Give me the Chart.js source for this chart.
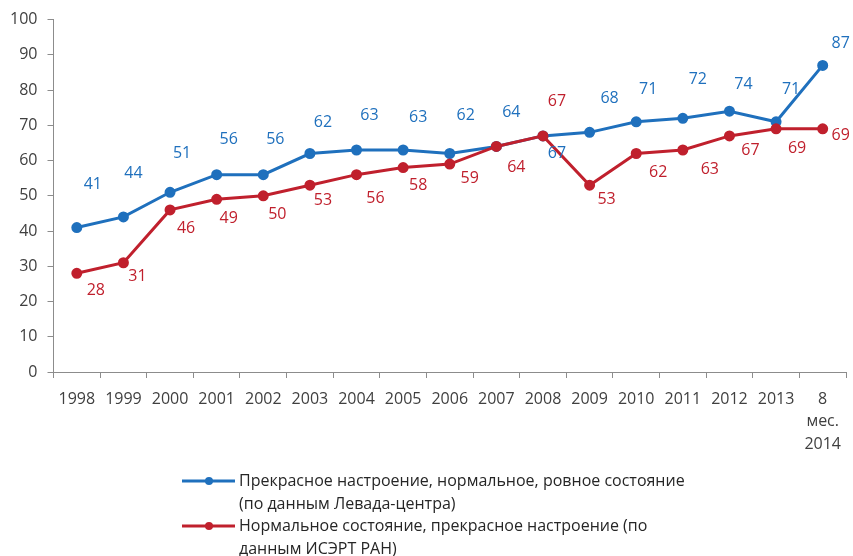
<!DOCTYPE html>
<html>
<head>
<meta charset="utf-8">
<script src="https://cdn.jsdelivr.net/npm/chart.js@4.4.1/dist/chart.umd.min.js"></script>
<style>
  html, body { margin: 0; padding: 0; background: #ffffff; }
  #wrap { width: 853px; height: 556px; position: relative; }
</style>
</head>
<body>
<div id="wrap"><canvas id="chart" width="853" height="556"></canvas></div>
<script>
// Years of the survey; the last point covers the first eight months of 2014
const categories = ['1998', '1999', '2000', '2001', '2002', '2003', '2004', '2005', '2006',
  '2007', '2008', '2009', '2010', '2011', '2012', '2013', ['8', 'мес.', '2014']];

// Share of respondents, %
const levadaValues = [41, 44, 51, 56, 56, 62, 63, 63, 62, 64, 67, 68, 71, 72, 74, 71, 87];
const isertValues  = [28, 31, 46, 49, 50, 53, 56, 58, 59, 64, 67, 53, 62, 63, 67, 69, 69];

// Value axis
const yMin = 0;
const yMax = 100;
const yStep = 10;

// Series names as they are wrapped in the legend
const levadaName = ['Прекрасное настроение, нормальное, ровное состояние', '(по данным Левада-центра)'];
const isertName  = ['Нормальное состояние, прекрасное настроение (по', 'данным ИСЭРТ РАН)'];

const BLUE = '#1f70bd';
const RED = '#c0202d';
const TEXT = '#404040';
const AXIS = '#8c8c8c';
const FONT = '"Open Sans", "Liberation Sans", sans-serif';

// Pixel nudges of each value label relative to its point
const levadaLabelShift = [[16,-43],[10,-44],[12,-39],[12,-35],[12,-35],[13,-31],[13,-35],[15,-33],[16,-38],
  [15,-34],[14,18],[20,-34],[12,-32],[15,-39],[14,-27],[15,-32],[18,-22]];
const isertLabelShift = [[19,17],[14,14],[16,19],[12,19],[14,19],[13,15],[19,24],[15,18],[20,14],
  [20,21],[14,-34],[17,14],[22,19],[27,19],[21,15],[21,20],[18,7]];

const valueLabels = {
  id: 'valueLabels',
  afterDatasetsDraw(chart) {
    const ctx = chart.ctx;
    ctx.save();
    ctx.font = '16px ' + FONT;
    ctx.textAlign = 'center';
    ctx.textBaseline = 'middle';
    chart.data.datasets.forEach((ds, i) => {
      const meta = chart.getDatasetMeta(i);
      const shifts = ds.labelShift;
      ctx.fillStyle = ds.borderColor;
      meta.data.forEach((pt, j) => {
        const [dx, dy] = shifts[j];
        ctx.fillText(String(ds.data[j]), pt.x + dx, pt.y + dy);
      });
    });
    ctx.restore();
  }
};

const bottomLegend = {
  id: 'bottomLegend',
  afterDraw(chart) {
    const ctx = chart.ctx;
    const entries = [
      { color: BLUE, lines: levadaName, y: 481 },
      { color: RED, lines: isertName, y: 526 }
    ];
    ctx.save();
    entries.forEach(e => {
      ctx.strokeStyle = e.color;
      ctx.lineWidth = 3;
      ctx.beginPath();
      ctx.moveTo(182, e.y);
      ctx.lineTo(235, e.y);
      ctx.stroke();
      ctx.fillStyle = e.color;
      ctx.beginPath();
      ctx.arc(209, e.y, 4, 0, Math.PI * 2);
      ctx.fill();
      ctx.fillStyle = '#262626';
      ctx.font = '16px ' + FONT;
      ctx.textAlign = 'left';
      ctx.textBaseline = 'middle';
      e.lines.forEach((t, k) => ctx.fillText(t, 239, e.y + k * 23));
    });
    ctx.restore();
  }
};

new Chart(document.getElementById('chart'), {
  type: 'line',
  data: {
    labels: categories,
    datasets: [
      {
        label: levadaName.join(' '),
        data: levadaValues,
        borderColor: BLUE,
        backgroundColor: BLUE,
        pointBackgroundColor: BLUE,
        pointBorderColor: BLUE,
        borderWidth: 3,
        pointRadius: 4,
        tension: 0,
        order: 1,
        labelShift: levadaLabelShift
      },
      {
        label: isertName.join(' '),
        data: isertValues,
        borderColor: RED,
        backgroundColor: RED,
        pointBackgroundColor: RED,
        pointBorderColor: RED,
        borderWidth: 3,
        pointRadius: 4,
        tension: 0,
        order: 0,
        labelShift: isertLabelShift
      }
    ]
  },
  options: {
    responsive: false,
    animation: false,
    devicePixelRatio: 1,
    layout: { padding: { top: 17, right: 7, left: 0, bottom: 0 } },
    plugins: {
      legend: { display: false },
      tooltip: { enabled: false }
    },
    scales: {
      x: {
        offset: true,
        grid: { offset: true, drawOnChartArea: false, drawTicks: true, tickLength: 6, color: AXIS },
        border: { display: true, color: AXIS, width: 1 },
        ticks: {
          autoSkip: false, maxRotation: 0, minRotation: 0, padding: 10, color: TEXT,
          font: { family: FONT, size: 16, lineHeight: 1.4 }
        },
        afterFit(scale) { scale.height = 184; }
      },
      y: {
        min: yMin,
        max: yMax,
        grid: { drawOnChartArea: false, drawTicks: true, tickLength: 6, color: AXIS },
        border: { display: true, color: AXIS, width: 1 },
        ticks: {
          stepSize: yStep, padding: 10, color: TEXT,
          font: { family: FONT, size: 16 }
        },
        afterFit(scale) { scale.width = 53.5; }
      }
    }
  },
  plugins: [valueLabels, bottomLegend]
});
</script>
</body>
</html>
